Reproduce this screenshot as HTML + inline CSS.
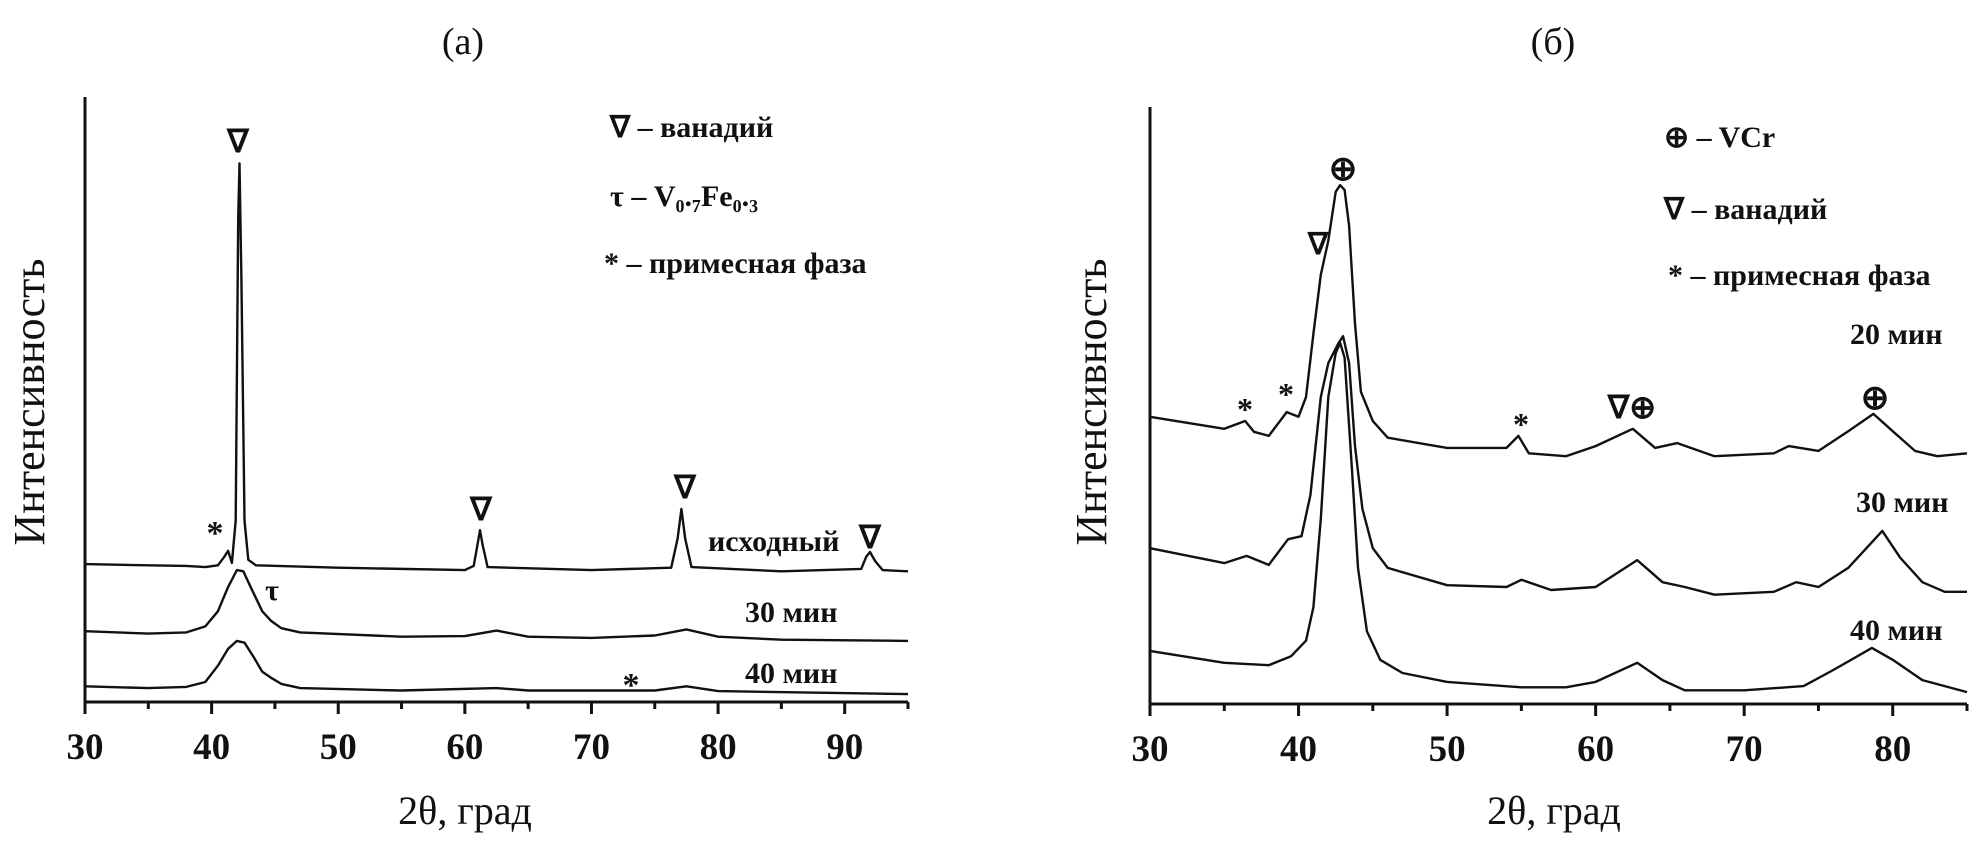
<!DOCTYPE html>
<html><head><meta charset="utf-8">
<style>
html,body{margin:0;padding:0;background:#fff;}
svg{display:block;}
text{font-family:"Liberation Serif",serif;fill:#111;}
</style></head>
<body>
<svg id="fig" width="1982" height="841" viewBox="0 0 1982 841">
  <text x="463" y="54" font-size="38" text-anchor="middle">(а)</text>
  <text x="1553" y="54" font-size="38" text-anchor="middle">(б)</text>
  <g id="pa"></g>
  <g id="pb"></g>
</svg>
<script>
// ---- Panel (a) data ----
const aXTicks = [30,40,50,60,70,80,90];
const aOrigX = [30,35,38,39.5,40.5,41,41.3,41.6,41.9,42.1,42.2,42.35,42.6,42.9,43.5,50,60,60.7,61.0,61.2,61.4,61.8,70,76.3,76.8,77.1,77.4,77.9,85,91.3,91.7,92,92.4,93,95];
const aOrigY = [22.8,22.6,22.5,22.3,22.6,24,25,23,30,80,89,70,30,23.5,22.6,22.2,21.8,22.5,26,28.4,26,22.3,21.8,22.2,27,31.9,27,22.3,21.6,22,24,24.8,23.3,21.8,21.6];
const a30X = [30,35,38,39.5,40.5,41.3,42,42.5,43.2,44,44.7,45.5,47,55,60,62.5,65,70,75,77.5,80,85,95];
const a30Y = [11.7,11.3,11.5,12.5,15,19,21.8,21.6,18.5,15,13.4,12.2,11.5,10.8,10.9,11.8,10.8,10.6,11.0,12.0,10.8,10.3,10.1];
const a40X = [30,35,38,39.5,40.5,41.3,42,42.6,43.3,44,44.7,45.5,47,55,62.5,65,75,77.5,80,95];
const a40Y = [2.6,2.3,2.5,3.3,6,8.8,10.1,9.8,7.5,5,4.0,3,2.3,1.9,2.3,1.9,1.9,2.6,1.8,1.3];

// ---- Panel (b) data ----
const bXTicks = [30,40,50,60,70,80];
const b20X = [30,35,36.4,37,38,39.2,40,40.5,41,41.5,42,42.5,42.8,43.1,43.4,43.8,44.2,45,46,50,54,54.8,55.5,58,60,62.5,64,65.5,68,72,73,75,77,78.7,80,81.5,83,85];
const b20Y = [48.1,46.1,47.4,45.6,44.9,48.9,48.1,51.4,62.0,71.9,77.6,85.8,86.9,86.1,80.1,63.7,52.3,47.4,44.6,42.9,42.9,44.9,42.0,41.5,43.2,46.1,42.9,43.7,41.5,42.0,43.2,42.4,45.7,48.6,45.7,42.4,41.5,42.0];
const b30X = [30,35,36.5,38,39.3,40.2,40.8,41.5,42,42.7,43,43.4,43.8,44.3,45,46,50,54,55,57,60,62.8,64.5,66,68,72,73.5,75,77,79.3,80.5,82,83.5,85];
const b30Y = [26.1,23.6,24.8,23.3,27.6,28.1,35.0,51.4,57.1,60.5,61.6,57.1,43.2,32.7,26.1,22.8,19.9,19.6,20.8,19.1,19.6,24.1,20.4,19.6,18.3,18.8,20.4,19.6,22.8,29.0,24.5,20.4,18.8,18.8];
const b40X = [30,35,38,39.5,40.5,41,41.5,42,42.5,42.8,43.1,43.6,44,44.6,45.5,47,50,55,58,60,62.8,64.5,66,70,74,76,78.6,80,82,85];
const b40Y = [8.9,6.9,6.5,8.0,10.6,16.2,31.0,51.4,58.8,60.5,58.0,39.2,22.8,12.2,7.4,5.2,3.7,2.8,2.8,3.7,6.9,4.0,2.3,2.3,3.0,5.7,9.4,7.4,4.0,2.0];

const NS='http://www.w3.org/2000/svg';
function mk(tag, attrs, parent){const e=document.createElementNS(NS,tag);for(const k in attrs)e.setAttribute(k,attrs[k]);parent.appendChild(e);return e;}

function drawPanel(g, cfg){
  const sx = v => cfg.x0 + (v - cfg.xmin) / (cfg.xmax - cfg.xmin) * (cfg.x1 - cfg.x0);
  const sy = v => cfg.yb - v / 100 * (cfg.yb - cfg.yt);
  const ax = mk('path',{d:`M${cfg.x0},${cfg.yt} L${cfg.x0},${cfg.yb} L${cfg.x1},${cfg.yb}`,fill:'none',stroke:'#111','stroke-width':3},g);
  
  
  for(let v=cfg.xmin; v<=cfg.xmax; v+=5){
    const major = v%10===0;
    const t = mk('line',{x1:sx(v),x2:sx(v),y1:cfg.yb,y2:cfg.yb+(major?12:7),stroke:'#111','stroke-width':3},g);
    
    
  }
  cfg.ticks.forEach(v=>{
    const t = mk('text',{x:sx(v),y:cfg.yb+57,'font-size':37,'text-anchor':'middle','font-weight':'bold'},g);
    t.textContent=v;
    
    
  });
  const xt = mk('text',{x:cfg.xtx,y:824,'font-size':40,'text-anchor':'middle'},g);
  xt.textContent='2θ, град';
  
  
  const yt = mk('text',{x:0,y:0,'font-size':44,'text-anchor':'middle',transform:`translate(${cfg.ytx},402) rotate(-90)`},g);
  yt.textContent='Интенсивность';
  
  
  cfg.series.forEach(s=>{
    const d = s.x.map((xv,i)=>(i?'L':'M')+sx(xv).toFixed(1)+','+sy(s.y[i]).toFixed(1)).join(' ');
    const p = mk('path',{d:d,fill:'none',stroke:'#111','stroke-width':2.4,'stroke-linejoin':'round'},g);
    
    
  });
  cfg.labels.forEach(l=>{
    const t = mk('text',{x:l[1],y:l[2],'font-size':l[3]||30,'text-anchor':l[4]||'start','font-weight':'bold'},g);
    t.textContent=l[0];
    
    
  });
}

drawPanel(document.getElementById('pa'),{
  x0:85,x1:908,xmin:30,xmax:95,yt:97,yb:702,ticks:aXTicks,xtx:465,ytx:44,
  series:[{name:'series-initial',x:aOrigX,y:aOrigY},{name:'series-30-min',x:a30X,y:a30Y},{name:'series-40-min',x:a40X,y:a40Y}],
  labels:[
    ['∇',238,152,32,'middle','marker-vanadium'],['∇',481,520,32,'middle','marker-vanadium'],['∇',685,498,32,'middle','marker-vanadium'],
    ['∇',870,548,32,'middle','marker-vanadium'],['*',215,544,34,'middle','marker-impurity'],['τ',272,600,30,'middle','marker-tau'],
    ['*',631,696,34,'middle','marker-impurity'],
    ['исходный',708,551,30,'start','label-initial'],['30 мин',745,622,30,'start','label-30-min'],['40 мин',745,683,30,'start','label-40-min'],
    ['∇ – ванадий',610,137,30,'start','legend-vanadium'],['τ – V₀.₇Fe₀.₃',610,206,30,'start','legend-v-fe'],['* – примесная фаза',604,273,30,'start','legend-impurity']
  ]
});
drawPanel(document.getElementById('pb'),{
  x0:1150,x1:1967,xmin:30,xmax:85,yt:107,yb:704,ticks:bXTicks,xtx:1554,ytx:1106,
  series:[{name:'series-20-min',x:b20X,y:b20Y},{name:'series-30-min-b',x:b30X,y:b30Y},{name:'series-40-min-b',x:b40X,y:b40Y}],
  labels:[
    ['⊕',1343,180,34,'middle','marker-vcr'],['∇',1318,254,30,'middle','marker-vanadium'],['*',1245,420,32,'middle','marker-impurity'],
    ['*',1286,405,32,'middle','marker-impurity'],['*',1521,435,32,'middle','marker-impurity'],['∇⊕',1632,418,32,'middle','marker-vanadium-vcr'],
    ['⊕',1875,409,34,'middle','marker-vcr'],
    ['20 мин',1850,344,30,'start','label-20-min'],['30 мин',1856,512,30,'start','label-30-min'],['40 мин',1850,640,30,'start','label-40-min'],
    ['⊕ – VCr',1664,147,30,'start','legend-vcr'],['∇ – ванадий',1664,219,30,'start','legend-vanadium'],['* – примесная фаза',1668,285,30,'start','legend-impurity']
  ]
});
</script>
</body></html>
